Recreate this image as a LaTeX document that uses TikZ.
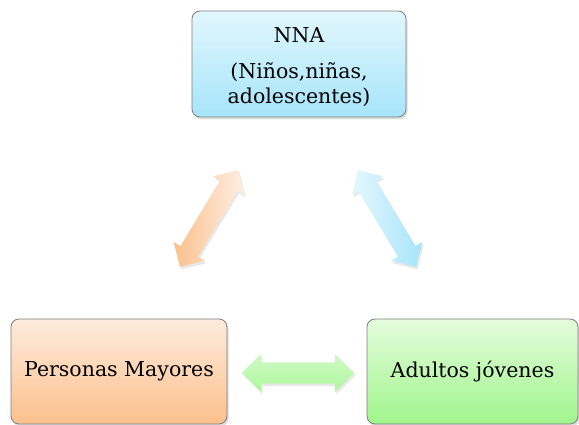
\documentclass[tikz,border=0pt]{standalone}
\usepackage{fontspec}
\setmainfont{DejaVu Serif}
\usetikzlibrary{shapes.arrows,shadows,shadings}
\definecolor{bTop}{RGB}{226,247,253}
\definecolor{bBot}{RGB}{166,228,250}
\definecolor{oTop}{RGB}{253,235,220}
\definecolor{oBot}{RGB}{251,192,140}
\definecolor{gTop}{RGB}{228,252,220}
\definecolor{gBot}{RGB}{160,244,140}
\definecolor{frame}{RGB}{125,125,125}
\tikzset{
  groupbox/.style={draw=frame, line width=0.8pt, rounded corners=8pt, align=center,
    font=\fontsize{20.5}{25}\selectfont,
    drop shadow={opacity=0.25, shadow xshift=1.5pt, shadow yshift=-2.5pt}},
  fatarrow/.style={double arrow, inner xsep=0pt, inner ysep=10pt, double arrow head extend=8pt,
    double arrow tip angle=90, draw=none,
    drop shadow={opacity=0.18, shadow xshift=1.5pt, shadow yshift=-2.5pt}}
}
\begin{document}
\begin{tikzpicture}[x=1pt,y=1pt]
\useasboundingbox (0,0) rectangle (579,425);
\node[groupbox, top color=bTop, bottom color=bBot, minimum width=214pt, minimum height=106pt]
  (nna) at (299,361) {\rule{0pt}{22pt}NNA\\[11pt](Niños,niñas,\\adolescentes)};
\node[groupbox, top color=oTop, bottom color=oBot, minimum width=216pt, minimum height=105pt]
  (pm) at (119,53.5) {Personas Mayores};
\node[groupbox, top color=gTop, bottom color=gBot, minimum width=211pt, minimum height=105pt]
  (aj) at (472.5,53.5) {Adultos jóvenes};
\node[fatarrow, minimum height=113pt, rotate=59, left color=oBot, right color=oTop!80!white]
  (a1) at (209,206.5) {};
\node[fatarrow, minimum height=113pt, rotate=-59, left color=bTop!90!white, right color=bBot]
  (a2) at (387,206.5) {};
\node[fatarrow, minimum height=112pt, inner ysep=10.5pt, double arrow head extend=8.5pt,
  top color=gTop!70!gBot, bottom color=gBot!85!white]
  (a3) at (298,52) {};
\end{tikzpicture}
\end{document}
